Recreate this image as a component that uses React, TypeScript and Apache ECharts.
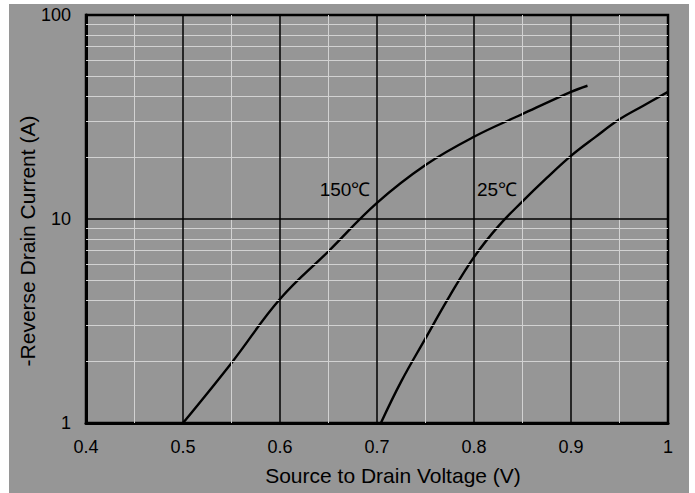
import React, { useEffect, useRef } from "react";
import * as echarts from "echarts";

// Forward characteristics
const v150 = [0.5, 0.55, 0.6, 0.65, 0.7, 0.75, 0.8, 0.85, 0.9, 0.917];
const i150 = [1.0, 1.97, 4.05, 6.95, 12, 18.4, 25.3, 32.7, 42, 45];

const v25 = [0.704, 0.725, 0.75, 0.775, 0.8, 0.825, 0.85, 0.875, 0.9, 0.925, 0.95, 0.975, 1.0];
const i25 = [1.0, 1.6, 2.6, 4.2, 6.5, 9.2, 12.2, 15.9, 20.4, 25.2, 30.8, 36, 42];

const curveLabels = ["150℃", "25℃"];
const labelPos: [number, number][] = [
  [0.667, 13.9],
  [0.8237, 13.9],
];

const xTitle = "Source to Drain Voltage (V)";
const yTitle = "-Reverse Drain Current (A)";

const xMajor = [0.5, 0.6, 0.7, 0.8, 0.9];
const xMinor = [0.45, 0.55, 0.65, 0.75, 0.85, 0.95];
const yMajor = [10];
const yMinor = [2, 3, 4, 5, 6, 7, 8, 9, 20, 30, 40, 50, 60, 70, 80, 90];

const FONT = "'Liberation Sans', Arial, sans-serif";

export default function App() {
  const ref = useRef<HTMLDivElement>(null);
  useEffect(() => {
    if (!ref.current) return;
    const chart = echarts.init(ref.current, undefined, { renderer: "svg" });
    const minorStyle = { color: "#d2d2d2", width: 1, type: "solid" as const };
    const majorStyle = { color: "#000", width: 1.5, type: "solid" as const };
    const gridLines = [
      ...xMinor.map((x) => ({ xAxis: x, lineStyle: minorStyle })),
      ...yMinor.map((y) => ({ yAxis: y, lineStyle: minorStyle })),
      ...xMajor.map((x) => ({ xAxis: x, lineStyle: majorStyle })),
      ...yMajor.map((y) => ({ yAxis: y, lineStyle: majorStyle })),
    ];
    const mkLabel = (i: number) => ({
      silent: true,
      data: [
        {
          coord: labelPos[i],
          symbol: "circle",
          symbolSize: 1,
          itemStyle: { color: "rgba(0,0,0,0)" },
          label: {
            show: true,
            position: "inside",
            formatter: curveLabels[i],
            color: "#000",
            fontSize: 19,
            fontFamily: FONT,
          },
        },
      ],
    });
    chart.setOption({
      animation: false,
      backgroundColor: "#969696",
      textStyle: { fontFamily: FONT },
      graphic: [
        {
          type: "text",
          x: 384,
          y: 471,
          style: {
            text: xTitle,
            x: 0,
            y: 0,
            fontSize: 21,
            fontFamily: FONT,
            fill: "#000",
            align: "center",
            verticalAlign: "middle",
          },
        },
        {
          type: "text",
          x: 18,
          y: 237,
          rotation: Math.PI / 2,
          style: {
            text: yTitle,
            x: 0,
            y: 0,
            fontSize: 21,
            fontFamily: FONT,
            fill: "#000",
            align: "center",
            verticalAlign: "middle",
          },
        },
      ],
      grid: {
        left: 77,
        top: 11,
        right: 21,
        bottom: 70,
        outerBoundsMode: "none",
        containLabel: false,
        show: true,
        backgroundColor: "#969696",
        borderColor: "#000",
        borderWidth: 2.5,
      },
      xAxis: {
        type: "value",
        min: 0.4,
        max: 1,
        interval: 0.1,
        axisLine: { show: true, lineStyle: { color: "#000", width: 3 } },
        axisTick: { show: false },
        splitLine: { show: false },
        axisLabel: {
          fontSize: 18,
          color: "#000",
          margin: 15,
          fontFamily: FONT,
          formatter: (v: number) => String(+v.toFixed(2)),
        },
      },
      yAxis: {
        type: "log",
        logBase: 10,
        min: 1,
        max: 100,
        axisLine: { show: true, lineStyle: { color: "#000", width: 3 } },
        axisTick: { show: false },
        splitLine: { show: false },
        axisLabel: {
          fontSize: 18,
          color: "#000",
          margin: 15,
          fontFamily: FONT,
          formatter: (v: number) => String(Math.round(v)),
        },
      },
      series: [
        {
          type: "line",
          z: 1,
          data: [[0.4, 1]],
          showSymbol: false,
          symbol: "none",
          lineStyle: { width: 0 },
          silent: true,
          markLine: {
            silent: true,
            symbol: "none",
            label: { show: false },
            data: gridLines,
          },
        },
        {
          type: "line",
          name: "150℃",
          z: 3,
          data: v150.map((v, k) => [v, i150[k]]),
          smooth: 0.4,
          showSymbol: false,
          symbol: "none",
          lineStyle: { color: "#000", width: 2.4 },
          markPoint: mkLabel(0),
        },
        {
          type: "line",
          name: "25℃",
          z: 3,
          data: v25.map((v, k) => [v, i25[k]]),
          smooth: 0.4,
          showSymbol: false,
          symbol: "none",
          lineStyle: { color: "#000", width: 2.4 },
          markPoint: mkLabel(1),
        },
      ],
    });
    return () => chart.dispose();
  }, []);
  return (
    <div
      ref={ref}
      style={{ position: "absolute", left: 9, top: 4, width: 680, height: 489 }}
    />
  );
}
